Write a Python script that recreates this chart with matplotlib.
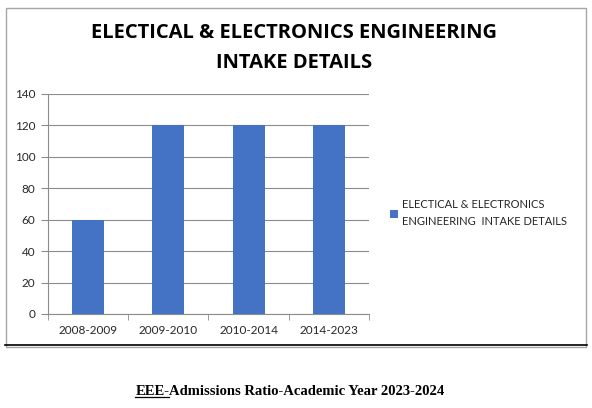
import matplotlib
matplotlib.use("Agg")
import matplotlib.pyplot as plt
from matplotlib.patches import Rectangle
from matplotlib.lines import Line2D

# data
periods = ["2008-2009", "2009-2010", "2010-2014", "2014-2023"]
intake = [60, 120, 120, 120]
series_name = "ELECTICAL & ELECTRONICS\nENGINEERING  INTAKE DETAILS"
title = "ELECTICAL & ELECTRONICS ENGINEERING\nINTAKE DETAILS"
caption_a = "EEE-"
caption_b = "Admissions Ratio-Academic Year 2023-2024"

W, H = 592, 408
fig = plt.figure(figsize=(W / 100, H / 100), dpi=100)
fig.patch.set_facecolor("white")

# chart frame
fig.add_artist(Rectangle((6 / W, 1 - 347 / H), 580 / W, 339 / H,
                         transform=fig.transFigure, fill=False,
                         edgecolor="#a6a6a6", lw=1))
fig.add_artist(Line2D([5 / W, 587 / W], [1 - 344.5 / H] * 2,
                      transform=fig.transFigure, color="black", lw=1.2))

ax = fig.add_axes([48 / W, 1 - 314 / H, 321 / W, 220 / H])
x = range(len(periods))
ax.bar(x, intake, width=0.4, color="#4472C4", label=series_name, zorder=3)
ax.set_xlim(-0.5, len(periods) - 0.5)
ax.set_ylim(0, 140)
ax.set_yticks(range(0, 141, 20))
ax.yaxis.grid(True, color="#8c8c8c", lw=0.8, zorder=0)
ax.set_xticks(list(x))
ax.set_xticklabels(periods)
ax.set_xticks([i - 0.5 for i in range(len(periods) + 1)], minor=True)
ax.tick_params(axis="x", which="major", length=0, pad=8)
ax.tick_params(axis="x", which="minor", length=4, color="#8c8c8c")
ax.tick_params(axis="y", length=5, color="#8c8c8c", pad=4)
for lab in ax.get_xticklabels() + ax.get_yticklabels():
    lab.set_fontfamily("Lato")
    lab.set_fontsize(8.5)
    lab.set_color("#262626")
for s in ["top", "right"]:
    ax.spines[s].set_visible(False)
for s in ["left", "bottom"]:
    ax.spines[s].set_color("#8c8c8c")
    ax.spines[s].set_linewidth(0.8)

fig.text(294 / W, 1 - 48 / H, title, ha="center", va="center",
         fontsize=14.5, fontweight="bold", family="Open Sans",
         linespacing=1.65, color="black")

leg = fig.legend(loc="center left", bbox_to_anchor=(390 / W, 1 - 213 / H),
                 frameon=False, prop={"family": "Lato", "size": 8},
                 handlelength=0.75, handleheight=0.75, handletextpad=0.3,
                 borderaxespad=0, borderpad=0)
for t in leg.get_texts():
    t.set_color("#262626")
    t.set_linespacing(1.6)

# caption with underlined "EEE-"
fig.canvas.draw()
r = fig.canvas.get_renderer()
ta = fig.text(0, 1 - 395 / H, caption_a, ha="left", va="baseline",
              fontsize=10.5, fontweight="bold", family="Liberation Serif")
tb = fig.text(0, 1 - 395 / H, caption_b, ha="left", va="baseline",
              fontsize=10.5, fontweight="bold", family="Liberation Serif")
wa = ta.get_window_extent(r).width
wb = tb.get_window_extent(r).width
x0 = 290 - (wa + wb) / 2
ta.set_x(x0 / W)
tb.set_x((x0 + wa) / W)
fig.add_artist(Line2D([x0 / W, (x0 + wa) / W], [1 - 397 / H] * 2,
                      transform=fig.transFigure, color="black", lw=0.9))

fig.savefig("out.png", dpi=100)
